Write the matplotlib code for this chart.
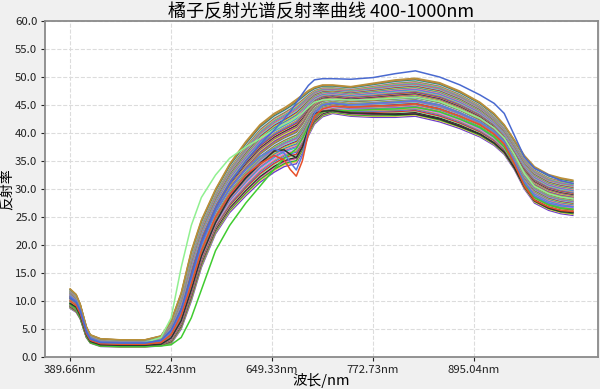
import matplotlib
matplotlib.use("Agg")
import matplotlib.pyplot as plt
import numpy as np

plt.rcParams['font.family'] = ['Noto Sans CJK SC', 'DejaVu Sans']
plt.rcParams['axes.unicode_minus'] = False

bands = [0, 3, 5, 8, 10, 15, 25, 37, 45, 50, 55, 60, 65, 72, 79, 87, 94, 101, 106,
         109, 112, 115, 118, 121, 125, 130, 139, 150, 161, 171, 183, 193, 203, 210,
         215, 220, 225, 230, 237, 243, 249]

# lower and upper edge of the main bundle of spectra
low = [8.7, 8.0, 6.8, 3.5, 2.5, 1.9, 1.8, 1.8, 2.0, 2.4, 5.0, 10.0, 16.0, 22.0, 25.8,
       28.8, 31.2, 33.0, 34.0, 34.3, 34.5, 36.5, 39.5, 41.6, 42.9, 43.5, 43.0, 42.8,
       42.8, 43.0, 42.0, 40.8, 39.3, 37.8, 36.2, 33.5, 30.0, 27.5, 26.2, 25.6, 25.3]
high = [12.2, 11.2, 9.5, 5.5, 4.0, 3.3, 3.1, 3.1, 3.8, 6.5, 11.5, 19.0, 24.5, 30.0,
        34.5, 38.5, 41.5, 43.5, 44.5, 45.2, 46.0, 46.8, 47.6, 48.2, 48.6, 48.6, 48.3,
        48.9, 49.5, 49.8, 49.0, 47.5, 45.5, 43.5, 41.5, 38.8, 36.0, 34.0, 32.6, 32.0,
        31.6]

# relative position of each sample inside the bundle (0 = lower edge, 1 = upper)
levels = [0.00, 0.03, 0.05, 0.08, 0.10, 0.13, 0.15, 0.18, 0.20, 0.22, 0.25, 0.27,
          0.29, 0.31, 0.33, 0.35, 0.37, 0.39, 0.40, 0.42, 0.44, 0.45, 0.47, 0.49,
          0.50, 0.52, 0.53, 0.55, 0.57, 0.58, 0.60, 0.62, 0.63, 0.65, 0.67, 0.69,
          0.70, 0.72, 0.74, 0.76, 0.78, 0.80, 0.82, 0.84, 0.86, 0.88, 0.90, 0.92,
          0.94, 0.96, 0.98, 1.00]

# individual spectra that stand out of the bundle
blue_top = [10.5, 9.8, 8.2, 4.5, 3.2, 2.6, 2.5, 2.5, 3.0, 4.8, 8.5, 14.5, 20.5, 26.5,
            31.0, 35.0, 38.0, 40.5, 42.5, 43.8, 45.4, 47.0, 48.5, 49.5, 49.7, 49.7,
            49.6, 49.9, 50.6, 51.1, 50.0, 48.6, 46.8, 45.3, 43.5, 39.6, 35.7, 33.7,
            32.5, 31.5, 31.0]
red_dip = [10.0, 9.2, 7.8, 4.2, 3.0, 2.4, 2.3, 2.3, 2.6, 4.0, 7.5, 13.0, 19.0, 25.0,
           29.0, 32.5, 34.5, 36.0, 35.2, 33.5, 32.3, 35.0, 40.0, 43.0, 44.3, 44.8,
           44.6, 44.8, 44.9, 45.2, 44.3, 43.0, 41.5, 39.8, 38.0, 34.5, 30.5, 28.0,
           26.8, 26.2, 26.0]
blue_dip = [10.8, 10.0, 8.5, 4.8, 3.4, 2.7, 2.6, 2.6, 2.9, 4.5, 8.0, 14.0, 20.0, 26.0,
            30.0, 33.5, 35.8, 37.2, 36.4, 34.8, 33.4, 36.0, 40.5, 43.5, 45.0, 45.3,
            45.0, 45.3, 45.5, 45.8, 45.0, 43.6, 42.0, 40.3, 38.5, 35.0, 31.2, 28.8,
            27.5, 27.0, 26.8]
black_dip = [9.6, 8.9, 7.4, 4.0, 2.8, 2.2, 2.1, 2.1, 2.3, 3.4, 6.5, 12.0, 18.0, 24.0,
             28.5, 32.0, 34.5, 36.8, 37.0, 36.2, 35.6, 37.5, 40.8, 43.5, 43.9, 44.0,
             43.6, 43.5, 43.3, 43.4, 42.5, 41.2, 39.8, 38.2, 36.6, 33.8, 30.4, 27.9,
             26.6, 26.0, 25.8]
green_slow = [9.4, 8.6, 7.1, 3.8, 2.6, 2.0, 1.9, 1.9, 2.0, 2.2, 3.5, 7.0, 12.0, 19.0,
              23.5, 27.5, 30.5, 33.5, 35.5, 36.3, 37.2, 39.0, 41.2, 43.0, 43.8, 44.0,
              44.0, 44.2, 44.3, 44.6, 43.8, 42.5, 41.0, 39.3, 37.5, 34.5, 31.0, 28.5,
              27.2, 26.6, 26.4]
green_early = [9.8, 9.1, 7.6, 4.2, 3.0, 2.5, 2.4, 2.6, 3.5, 7.0, 16.0, 23.5, 28.5,
               32.5, 35.5, 37.5, 39.0, 40.6, 41.6, 42.1, 42.8, 43.6, 44.6, 45.5, 45.9,
               46.0, 45.9, 46.0, 46.2, 46.4, 45.6, 44.2, 42.6, 40.9, 39.1, 36.2, 32.8,
               30.5, 29.2, 28.6, 28.3]

colors = ['#6a3ad0', '#f0c850', '#30b030', '#e050a0', '#303030', '#90e890', '#d83030',
          '#4a6ae8', '#b0b030', '#f070f0', '#30c8b0', '#8a50e0', '#f8a070', '#3080c8',
          '#b8e040', '#a02850', '#60c8f0', '#d09040', '#a050e0', '#40e070', '#f870a0',
          '#70a030', '#d8b8f8', '#209070', '#c08040', '#b8903a']

tick_bands = [0, 50, 100, 150, 200]
tick_wl = [389.66, 522.43, 649.33, 772.73, 895.04]

fig = plt.figure(figsize=(6.0, 3.89), dpi=100, facecolor='#f0f0f0')
ax = fig.add_axes([0.075, 0.082, 0.9217, 0.864])
ax.set_facecolor('white')

low_a = np.array(low)
high_a = np.array(high)
for k, lv in enumerate(levels):
    ax.plot(bands, low_a + lv * (high_a - low_a), color=colors[k % len(colors)], lw=1.0)

ax.plot(bands, green_slow, color='#40cc30', lw=1.1)
ax.plot(bands, green_early, color='#90f090', lw=1.1)
ax.plot(bands, black_dip, color='#303030', lw=1.1)
ax.plot(bands, blue_dip, color='#5a7ae0', lw=1.1)
ax.plot(bands, red_dip, color='#e8502a', lw=1.1)
ax.plot(bands, blue_top, color='#4a6ad0', lw=1.1)

ax.set_ylim(0, 60)
ax.set_yticks(np.arange(0, 61, 5))
ax.set_yticklabels(['%.1f' % v for v in np.arange(0, 61, 5)])
ax.set_xticks(tick_bands)
ax.set_xticklabels(['%.2fnm' % w for w in tick_wl])
ax.tick_params(labelsize=8.2, colors='#222222', length=3, pad=2.5)

ax.grid(True, linestyle='--', color='#dcdcdc', lw=0.8)
ax.set_axisbelow(True)
for s in ax.spines.values():
    s.set_color('#8a8a8a')
    s.set_linewidth(1.3)

ax.set_title('橘子反射光谱反射率曲线 400-1000nm', fontsize=13, pad=2)
ax.set_xlabel('波长/nm', fontsize=10.5, va='center')
ax.set_ylabel('反射率', fontsize=10, va='center')
ax.xaxis.set_label_coords(0.5, -0.07)
ax.yaxis.set_label_coords(-0.0695, 0.5)

fig.savefig('out.png', dpi=100, facecolor=fig.get_facecolor())
